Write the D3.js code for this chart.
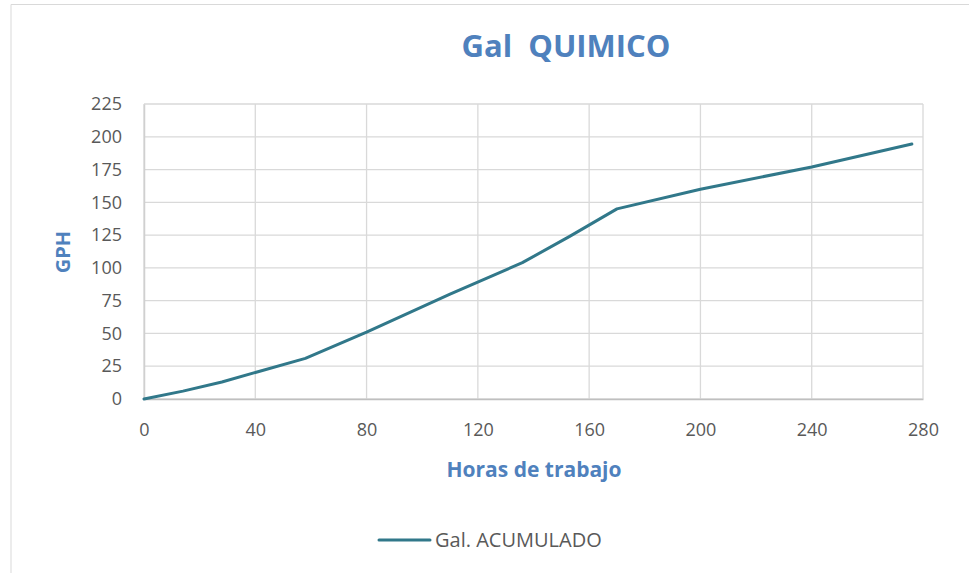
<!DOCTYPE html>
<html>
<head>
<meta charset="utf-8">
<script src="https://cdn.jsdelivr.net/npm/d3@7"></script>
<style>
  body { margin: 0; background: #fff; }
  svg { display: block; font-family: "Open Sans", "Noto Sans", sans-serif; }
</style>
</head>
<body>
<svg class="chart" width="969" height="573"></svg>
<script>
// horas de trabajo vs galones acumulados
var horas = [0, 14, 28, 58, 80, 110, 136, 153, 170, 200, 240, 276];
var galones = [0, 6, 13, 31, 51, 80, 104, 124, 145, 160, 177, 194.5];
var xTicks = [0, 40, 80, 120, 160, 200, 240, 280];
var yTicks = [0, 25, 50, 75, 100, 125, 150, 175, 200, 225];
var serieNombre = "Gal. ACUMULADO";

var svg = d3.select(".chart");
var mLeft = 144, mRight = 923, mTop = 104, mBottom = 399;
var blue = "#4f81bd", lineColor = "#31788a", textColor = "#595959";

// borde del grafico
svg.append("path")
    .attr("d", "M11,573 L11,4.5 L969,4.5")
    .attr("fill", "none")
    .attr("stroke", "#d9d9d9")
    .attr("stroke-width", 1);

var x = d3.scaleLinear().domain([0, 280]).range([mLeft, mRight]);
var y = d3.scaleLinear().domain([0, 225]).range([mBottom, mTop]);

// grilla
svg.append("g").selectAll("line")
    .data(yTicks)
    .enter()
    .append("line")
    .attr("x1", mLeft).attr("x2", mRight)
    .attr("y1", function(d){ return y(d); })
    .attr("y2", function(d){ return y(d); })
    .attr("stroke", "#d9d9d9")
    .attr("stroke-width", 1.3);
svg.append("g").selectAll("line")
    .data(xTicks)
    .enter()
    .append("line")
    .attr("y1", mTop).attr("y2", mBottom)
    .attr("x1", function(d){ return x(d); })
    .attr("x2", function(d){ return x(d); })
    .attr("stroke", "#d9d9d9")
    .attr("stroke-width", 1.3);

// ejes
var xAxis = svg.append("g")
    .attr("transform", "translate(0," + mBottom + ")")
    .call(d3.axisBottom(x).tickValues(xTicks).tickSize(0).tickPadding(24));
var yAxis = svg.append("g")
    .attr("transform", "translate(" + mLeft + ",0)")
    .call(d3.axisLeft(y).tickValues(yTicks).tickSize(0).tickPadding(22));
[xAxis, yAxis].forEach(function(a){
    a.select(".domain").attr("stroke", "#bfbfbf").attr("stroke-width", 1.5);
    a.selectAll("text")
        .attr("fill", textColor)
        .style("font-size", "18px")
        .style("font-family", "'Open Sans', sans-serif");
});
yAxis.select(".domain").attr("stroke", "#d0d0d0");

// linea
var line = d3.line()
    .x(function(d, i){ return x(horas[i]); })
    .y(function(d){ return y(d); });
svg.append("path")
    .datum(galones)
    .attr("d", line)
    .attr("fill", "none")
    .attr("stroke", lineColor)
    .attr("stroke-width", 3)
    .attr("stroke-linecap", "round")
    .attr("stroke-linejoin", "round");

// titulos
svg.append("text")
    .attr("x", 566).attr("y", 57)
    .attr("text-anchor", "middle")
    .attr("fill", blue)
    .style("font-size", "31px")
    .style("font-weight", "bold")
    .style("white-space", "pre")
    .text("Gal  QUIMICO");
svg.append("text")
    .attr("x", 534).attr("y", 477)
    .attr("text-anchor", "middle")
    .attr("fill", blue)
    .style("font-size", "21px")
    .style("font-weight", "bold")
    .text("Horas de trabajo");
svg.append("text")
    .attr("transform", "translate(70,252) rotate(-90)")
    .attr("text-anchor", "middle")
    .attr("fill", blue)
    .style("font-size", "20px")
    .style("font-weight", "bold")
    .text("GPH");

// leyenda
svg.append("line")
    .attr("x1", 379).attr("x2", 430)
    .attr("y1", 540).attr("y2", 540)
    .attr("stroke", lineColor)
    .attr("stroke-width", 3)
    .attr("stroke-linecap", "round");
svg.append("text")
    .attr("x", 435).attr("y", 547)
    .attr("fill", textColor)
    .style("font-size", "20px")
    .text(serieNombre);
</script>
</body>
</html>
